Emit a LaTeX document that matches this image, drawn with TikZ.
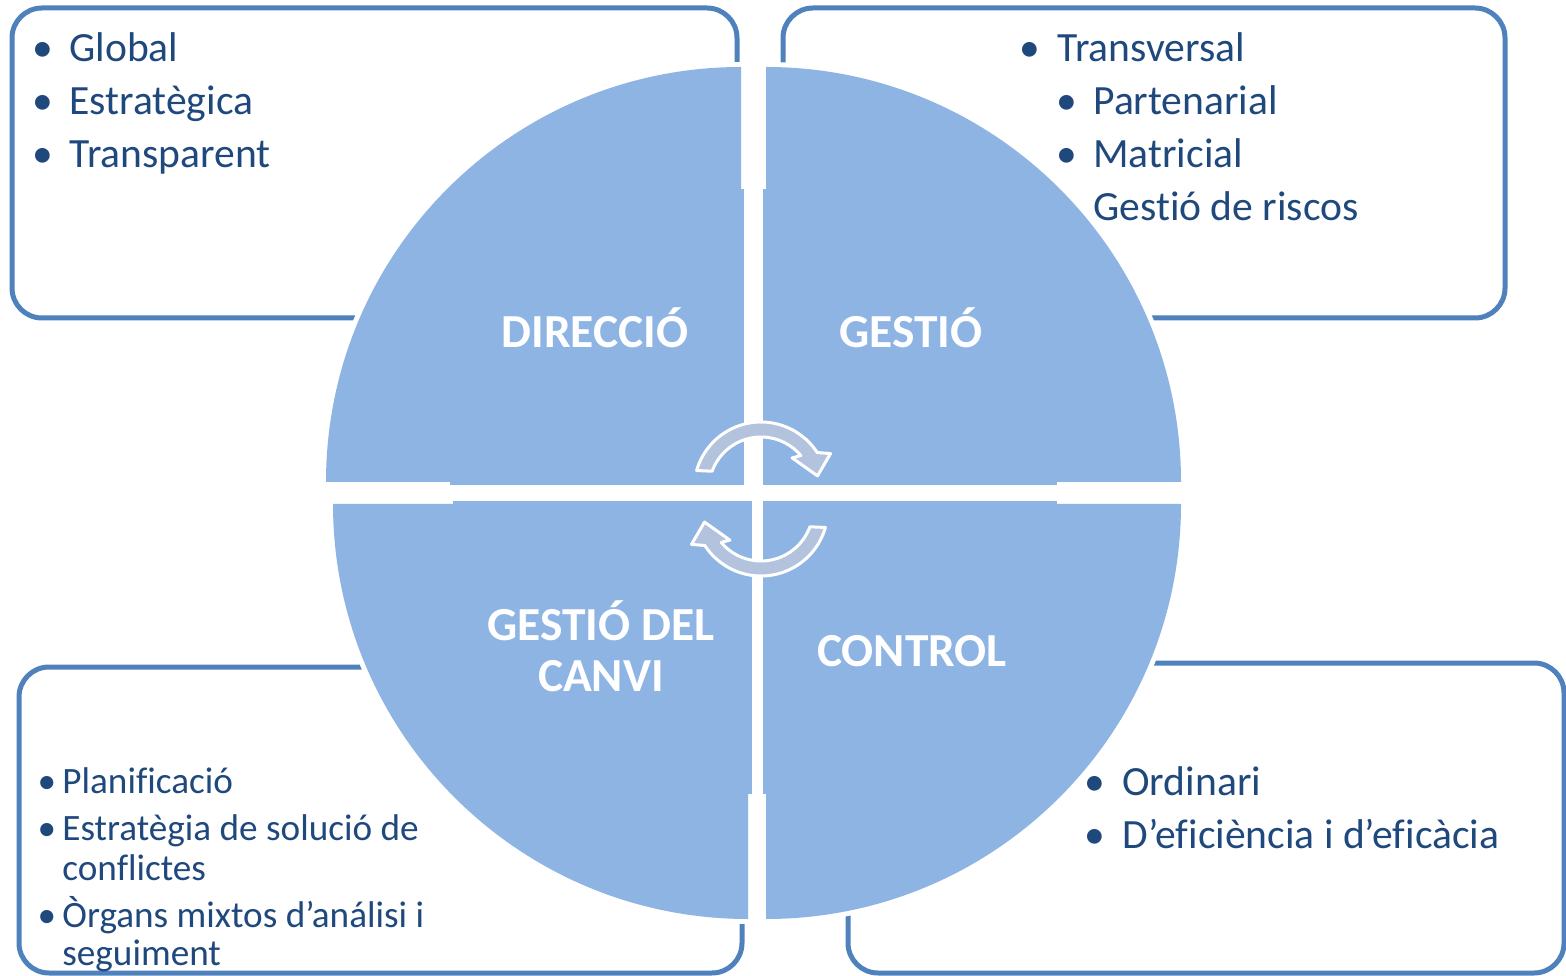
\documentclass[tikz,border=0pt]{standalone}
\usepackage{fontspec}
\setmainfont{Carlito}[Ligatures=NoCommon]
\usetikzlibrary{positioning, calc}
\definecolor{boxline}{HTML}{4F81BD}
\definecolor{quadfill}{HTML}{8EB4E3}
\definecolor{txtblue}{HTML}{1F497D}
\definecolor{arrfill}{HTML}{B3C3DE}
\tikzstyle{Box} = [draw=boxline, line width=2.5pt, rounded corners=15pt, fill=white]
\tikzstyle{Quad} = [fill=quadfill, preaction={draw=white, line width=5pt}]
\tikzstyle{Inner} = [fill=quadfill]
\tikzstyle{Label} = [font=\bfseries\fontsize{23.7}{26}\selectfont, text=white,
inner sep=0pt, anchor=base]
\tikzstyle{Item} = [font=\fontsize{20.8}{24}\selectfont, text=txtblue,
inner sep=0pt, anchor=base west]
\tikzstyle{SmallItem} = [Item, font=\fontsize{18.6}{22}\selectfont]
\tikzstyle{Dot} = [font=\fontsize{20.8}{24}\selectfont, text=txtblue,
inner sep=0pt, anchor=base]
\tikzstyle{SmallDot} = [Dot, font=\fontsize{18.6}{22}\selectfont]
\tikzstyle{Turn} = [fill=arrfill, draw=white, line width=1.5pt, line join=round]
\tikzset{pics/cyclearrow/.style={code={
\path[Turn] (164:67) arc[start angle=164, end angle=33, radius=67]
 -- (27:78) -- (13:58) -- (45:44) -- (40:52)
 arc[start angle=40, end angle=160, radius=52] -- cycle;}}}

\begin{document}
\begin{tikzpicture}[x=0.5pt, y=0.5pt]
    \useasboundingbox (0,0) rectangle (1566,975);
    % boxes
    \draw[Box] (12,657) rectangle (737,967);
    \draw[Box] (783,657) rectangle (1505,967);
    \draw[Box] (19,2) rectangle (742,308);
    \draw[Box] (848,2) rectangle (1564,312);
    % quadrants
    \path[Quad] (741,493) -- ++(180:415) arc[start angle=180, end angle=90, radius=415] -- cycle;
    \path[Quad] (766,493) -- ++(90:415) arc[start angle=90, end angle=0, radius=415] -- cycle;
    \path[Quad] (748,471) -- ++(270:415) arc[start angle=270, end angle=180, radius=415] -- cycle;
    \path[Quad] (766,471) -- ++(0:415) arc[start angle=0, end angle=-90, radius=415] -- cycle;
    \fill[Inner] (450,490) rectangle (744,786);
    \fill[Inner] (763,490) rectangle (1057,786);
    \fill[Inner] (453,181) rectangle (752,474);
    \fill[Inner] (763,181) rectangle (1057,474);
    \node[Label] (dir) at (595,627) {DIRECCIÓ};
    \node[Label] (ges) at (911,627) {GESTIÓ};
    \node[Label] (canvi) at (601,335) {GESTIÓ DEL};
    \node[Label, below=25.5pt of canvi.base, anchor=base] (canvi2) {CANVI};
    \node[Label] (ctrl) at (912,309) {CONTROL};
    % cycle arrows
    \pic at (761,486) {cyclearrow};
    \pic[rotate=180] at (761,466) {cyclearrow};
    % top left
    \node[Item] (gl) at (69,913) {Global};
    \node[Item, below=26.5pt of gl.base west, anchor=base west] (es) {Estratègica};
    \node[Item, below=26.5pt of es.base west, anchor=base west] (tr) {Transparent};
    \node[Dot, left=13pt of gl.base west, anchor=base] (d1) {•};
    \node[Dot, left=13pt of es.base west, anchor=base] (d2) {•};
    \node[Dot, left=13pt of tr.base west, anchor=base] (d3) {•};
    % top right
    \node[Item] (tv) at (1057,913) {Transversal};
    \node[Item, below=26.5pt of tv.base west, anchor=base west, xshift=18pt] (pa) {Partenarial};
    \node[Item, below=26.5pt of pa.base west, anchor=base west] (ma) {Matricial};
    \node[Item, below=26.5pt of ma.base west, anchor=base west] (ri) {Gestió de riscos};
    \node[Dot, left=13.5pt of tv.base west, anchor=base] (d4) {•};
    \node[Dot, left=13pt of pa.base west, anchor=base] (d5) {•};
    \node[Dot, left=13pt of ma.base west, anchor=base] (d6) {•};
    % bottom left
    \node[SmallItem] (pl) at (62,182) {Planificació};
    \node[SmallItem, below=23.5pt of pl.base west, anchor=base west] (so) {Estratègia de solució de};
    \node[SmallItem, below=20pt of so.base west, anchor=base west] (co) {conflictes};
    \node[SmallItem, below=23.5pt of co.base west, anchor=base west] (or) {Òrgans mixtos d’análisi i};
    \node[SmallItem, below=19pt of or.base west, anchor=base west] (se) {seguiment};
    \node[SmallDot, left=7.5pt of pl.base west, anchor=base] (d7) {•};
    \node[SmallDot, left=7.5pt of so.base west, anchor=base] (d8) {•};
    \node[SmallDot, left=7.5pt of or.base west, anchor=base] (d9) {•};
    % bottom right
    \node[Item] (od) at (1122,180) {Ordinari};
    \node[Item, below=26.5pt of od.base west, anchor=base west] (ef) {D’eficiència i d’eficàcia};
    \node[Dot, left=13.5pt of od.base west, anchor=base] (d10) {•};
    \node[Dot, left=13.5pt of ef.base west, anchor=base] (d11) {•};
\end{tikzpicture}
\end{document}
